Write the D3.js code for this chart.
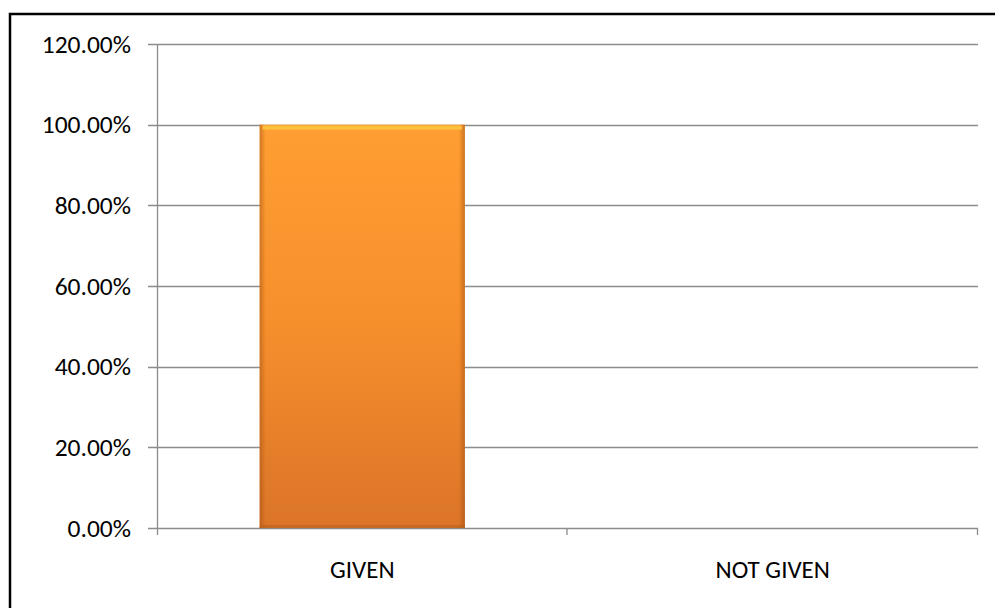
<!DOCTYPE html>
<html><head><meta charset="utf-8">
<script src="https://cdn.jsdelivr.net/npm/d3@7"></script>
<style>body{margin:0;background:#fff}svg{display:block}text{font-family:Carlito,Calibri,"Open Sans",sans-serif}</style>
</head><body>
<svg id="c" width="995" height="608"></svg>
<script>
const categories = ["GIVEN", "NOT GIVEN"];
const values = [1.0, 0.0];
const yTicks = [0, 0.2, 0.4, 0.6, 0.8, 1.0, 1.2];

const svg = d3.select("#c");
const m = {left: 157, right: 978, top: 44, bottom: 528};
svg.append("rect").attr("x", 10).attr("y", 14).attr("width", 1000).attr("height", 620)
  .attr("fill", "#fff").attr("stroke", "#000").attr("stroke-width", 2.5);

const x = d3.scaleBand().domain(categories).range([m.left, m.right]).paddingInner(0.5).paddingOuter(0.25);
const y = d3.scaleLinear().domain([0, 1.2]).range([m.bottom, m.top]);

const defs = svg.append("defs");
const g1 = defs.append("linearGradient").attr("id", "bg").attr("x1", 0).attr("y1", 0).attr("x2", 0).attr("y2", 1);
g1.append("stop").attr("offset", "0%").attr("stop-color", "#FF9E32");
g1.append("stop").attr("offset", "50%").attr("stop-color", "#F58F2C");
g1.append("stop").attr("offset", "100%").attr("stop-color", "#DB7428");
const g2 = defs.append("linearGradient").attr("id", "bh").attr("x1", 0).attr("y1", 0).attr("x2", 1).attr("y2", 0);
g2.append("stop").attr("offset", "0%").attr("stop-color", "#9a4a10").attr("stop-opacity", 0.45);
g2.append("stop").attr("offset", "3%").attr("stop-color", "#9a4a10").attr("stop-opacity", 0);
g2.append("stop").attr("offset", "97%").attr("stop-color", "#9a4a10").attr("stop-opacity", 0);
g2.append("stop").attr("offset", "100%").attr("stop-color", "#9a4a10").attr("stop-opacity", 0.5);

// gridlines
svg.append("g").selectAll("line").data(yTicks).join("line")
  .attr("x1", m.left - 9).attr("x2", m.right).attr("y1", d => Math.round(y(d)) + 0.5).attr("y2", d => Math.round(y(d)) + 0.5)
  .attr("stroke", "#8c8c8c").attr("stroke-width", 1.3);
// y axis line
svg.append("line").attr("x1", m.left + 0.5).attr("x2", m.left + 0.5).attr("y1", m.top).attr("y2", m.bottom + 7)
  .attr("stroke", "#8c8c8c").attr("stroke-width", 1.3);
// x category ticks
const bounds = [m.left, (m.left + m.right) / 2, m.right];
svg.append("g").selectAll("line").data(bounds.slice(1)).join("line")
  .attr("x1", d => d - 0.5).attr("x2", d => d - 0.5).attr("y1", m.bottom).attr("y2", m.bottom + 7)
  .attr("stroke", "#8c8c8c").attr("stroke-width", 1.3);

// y labels
svg.append("g").selectAll("text").data(yTicks).join("text")
  .attr("x", 131).attr("y", d => y(d) + 8.5).attr("text-anchor", "end")
  .attr("font-size", 25.5).attr("fill", "#000").text(d => d3.format(".2%")(d));

// bars
const bars = svg.append("g").selectAll("g").data(categories.map((c, i) => ({c, v: values[i]}))).join("g");
bars.append("rect").attr("x", d => x(d.c)).attr("width", x.bandwidth())
  .attr("y", d => y(d.v)).attr("height", d => y(0) - y(d.v)).attr("fill", "url(#bg)");
bars.filter(d => d.v > 0).append("rect").attr("x", d => x(d.c)).attr("width", x.bandwidth())
  .attr("y", d => y(d.v)).attr("height", d => y(0) - y(d.v)).attr("fill", "url(#bh)");
bars.filter(d => d.v > 0).append("rect").attr("x", d => x(d.c) + 3).attr("width", x.bandwidth() - 6)
  .attr("y", d => y(d.v) + 1).attr("height", 4).attr("fill", "#FFC740").attr("opacity", 0.85);
bars.filter(d => d.v > 0).append("rect").attr("x", d => x(d.c)).attr("width", x.bandwidth())
  .attr("y", d => y(0) - 3).attr("height", 3).attr("fill", "#b8621f").attr("opacity", 0.6);

// x labels
svg.append("g").selectAll("text").data(categories).join("text")
  .attr("x", d => x(d) + x.bandwidth() / 2).attr("y", 578).attr("text-anchor", "middle")
  .attr("font-size", 25).attr("fill", "#000").text(d => d);
</script>
</body></html>
